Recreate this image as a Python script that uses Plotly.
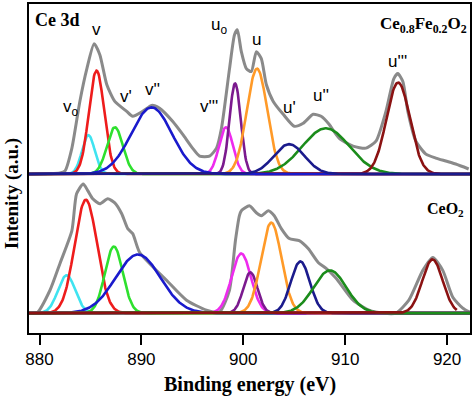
import numpy as np
import plotly.graph_objects as go

# ---- experimental spectra (binding energy eV, intensity above own baseline) ----
top_x = [879.0, 882.0, 882.5, 883.18, 883.96, 884.65, 885.36, 885.92, 886.60, 887.39, 888.56,
         889.15, 890.13, 891.01, 891.79, 893.06, 894.04, 895.02, 895.71, 896.69, 897.37,
         897.86, 898.65, 899.14, 899.42, 899.81, 900.30, 900.79, 901.28, 901.77, 902.26,
         902.94, 903.92, 905.00, 905.88, 906.86, 907.64, 908.42, 909.40, 910.77, 912.04,
         913.02, 914.00, 914.78, 915.17, 915.66, 916.15, 916.94, 917.92, 918.89, 919.87,
         920.85, 922.12]
top_y = [0, 1, 3, 26, 73, 106, 131, 120, 90, 73, 63,
         58, 63, 69, 66, 53, 40, 26, 18, 18, 26,
         46, 106, 140, 145, 123, 106, 103, 123, 116, 90,
         73, 60, 48, 51, 60, 58, 50, 36, 28, 26,
         33, 63, 96, 101, 93, 63, 33, 20, 16, 13,
         10, 5]

bot_x = [879.0, 879.73, 881.03, 882.01, 883.18, 883.64, 884.29, 884.75, 885.23, 885.92, 886.70,
         887.39, 888.07, 888.66, 889.15, 889.83, 892.47, 894.43, 896.39, 897.66, 898.64,
         899.23, 899.62, 899.81, 900.60, 901.28, 901.77, 902.46, 903.04, 903.73, 904.51,
         905.49, 906.37, 907.35, 908.13, 909.11, 910.77, 912.34, 913.71, 914.98, 916.25,
         917.62, 918.60, 919.58, 920.56, 921.54, 922.22]
bot_y = [0, 0, 23, 50, 83, 120, 130, 123, 115, 110, 115,
         111, 100, 85, 80, 61, 33, 13, 3, 1, 23,
         73, 98, 103, 108, 101, 98, 103, 98, 85, 75,
         73, 65, 51, 45, 35, 13, 3, 0, 0, 13,
         43, 56, 43, 16, 5, 1]

# ---- fitted component peaks: centre (eV), height, sigma (eV) ----
peak_names = ["vo", "v", "v'", "v''", "v'''", "uo", "u", "u'", "u''", "u'''"]
peak_colors = ["#3fe3f0", "#ee1c1c", "#2ee02e", "#1a1acc", "#ee2bee", "#7b1a8e",
               "#ff9a28", "#1b1b8c", "#1b8c1b", "#8b1212"]
top_centers = [884.8, 885.6, 887.4, 891.0, 898.3, 899.2, 901.35, 904.5, 908.1, 915.2]
top_heights = [39, 104, 47, 67, 47, 91, 106, 30, 46, 92]
top_sigmas = [0.62, 0.75, 0.78, 2.0, 0.68, 0.55, 1.0, 1.5, 2.3, 1.15]

bot_centers = [882.66, 884.55, 887.3, 889.67, 899.8, 900.7, 902.75, 905.6, 908.5, 918.57]
bot_heights = [38, 114, 67, 59, 60, 41, 91, 52, 43, 54]
bot_sigmas = [0.85, 1.1, 0.88, 2.2, 0.95, 0.7, 1.0, 0.93, 1.6, 1.0]

label_texts = ["v<sub>o</sub>", "v", "v'", "v''", "v'''", "u<sub>o</sub>", "u", "u'", "u''", "u'''"]

TOP_OFFSET = 160
BOT_OFFSET = 20
X_MIN, X_MAX = 878.97, 922.25

fig = go.Figure()

# experimental curves
fig.add_trace(go.Scatter(x=top_x, y=[v + TOP_OFFSET for v in top_y], mode="lines",
                         line=dict(color="#8a8a8a", width=3, shape="spline", smoothing=0.6),
                         showlegend=False, hoverinfo="skip"))
fig.add_trace(go.Scatter(x=bot_x, y=[v + BOT_OFFSET for v in bot_y], mode="lines",
                         line=dict(color="#8a8a8a", width=3, shape="spline", smoothing=0.6),
                         showlegend=False, hoverinfo="skip"))

xg = np.linspace(X_MIN, X_MAX, 700)

def gauss(c, h, s, x):
    return h * np.exp(-0.5 * ((x - c) / s) ** 2)

# bottom panel components (dark red last, ends before right edge)
for i in range(10):
    xx = xg if i != 9 else xg[xg <= 921.0]
    fig.add_trace(go.Scatter(x=xx, y=gauss(bot_centers[i], bot_heights[i], bot_sigmas[i], xx) + BOT_OFFSET,
                             mode="lines", line=dict(color=peak_colors[i], width=2.6),
                             showlegend=False, hoverinfo="skip"))

# top panel components (navy last -> visible baseline)
order_top = [0, 1, 2, 4, 5, 6, 8, 9, 3, 7]
for i in order_top:
    fig.add_trace(go.Scatter(x=xg, y=gauss(top_centers[i], top_heights[i], top_sigmas[i], xg) + TOP_OFFSET,
                             mode="lines", line=dict(color=peak_colors[i], width=2.6),
                             showlegend=False, hoverinfo="skip"))

# peak labels (positions in data coords)
label_pos = [(883.08, 226), (885.63, 305), (888.46, 238), (891.11, 245), (896.68, 228),
             (897.66, 309), (901.28, 295), (904.51, 227), (907.64, 239), (915.17, 273)]
annotations = []
for t, (lx, ly) in zip(label_texts, label_pos):
    annotations.append(dict(x=lx, y=ly, xref="x", yref="y", text=t, showarrow=False,
                            font=dict(family="Liberation Sans, Arial", size=17, color="black"),
                            xanchor="center", yanchor="middle"))

serif = "Liberation Serif, Times New Roman"
annotations += [
    dict(x=0.008, y=0.952, xref="paper", yref="paper", text="<b>Ce 3d</b>", showarrow=False,
         font=dict(family=serif, size=18, color="black"), xanchor="left", yanchor="middle"),
    dict(x=0.997, y=0.935, xref="paper", yref="paper",
         text="<b>Ce<sub>0.8</sub>Fe<sub>0.2</sub>O<sub>2</sub></b>", showarrow=False,
         font=dict(family=serif, size=17, color="black"), xanchor="right", yanchor="middle"),
    dict(x=0.99, y=0.375, xref="paper", yref="paper",
         text="<b>CeO<sub>2</sub></b>", showarrow=False,
         font=dict(family=serif, size=16, color="black"), xanchor="right", yanchor="middle"),
    dict(x=0.5, y=-0.157, xref="paper", yref="paper", text="<b>Binding energy (eV)</b>",
         showarrow=False, font=dict(family=serif, size=20, color="black"),
         xanchor="center", yanchor="middle"),
    dict(x=-0.04, y=0.423, xref="paper", yref="paper", text="<b>Intenity (a.u.)</b>",
         showarrow=False, textangle=-90, font=dict(family=serif, size=19, color="black"),
         xanchor="center", yanchor="middle"),
]

fig.update_layout(
    width=474, height=401,
    margin=dict(l=29, r=3, t=2, b=68),
    paper_bgcolor="white", plot_bgcolor="white",
    showlegend=False,
    annotations=annotations,
    xaxis=dict(range=[X_MIN, X_MAX], tickvals=[880, 890, 900, 910, 920],
               ticks="outside", ticklen=10, tickwidth=2, tickcolor="black",
               showline=True, linecolor="black", linewidth=2, mirror=True,
               showgrid=False, zeroline=False,
               tickfont=dict(family="Liberation Sans, Arial", size=17, color="black")),
    yaxis=dict(range=[0, 331], showticklabels=False, ticks="",
               showline=True, linecolor="black", linewidth=2, mirror=True,
               showgrid=False, zeroline=False),
)

fig.write_html("out.html", config={"displayModeBar": False},
               post_script="document.body.style.margin='0';document.body.style.overflow='hidden';")
